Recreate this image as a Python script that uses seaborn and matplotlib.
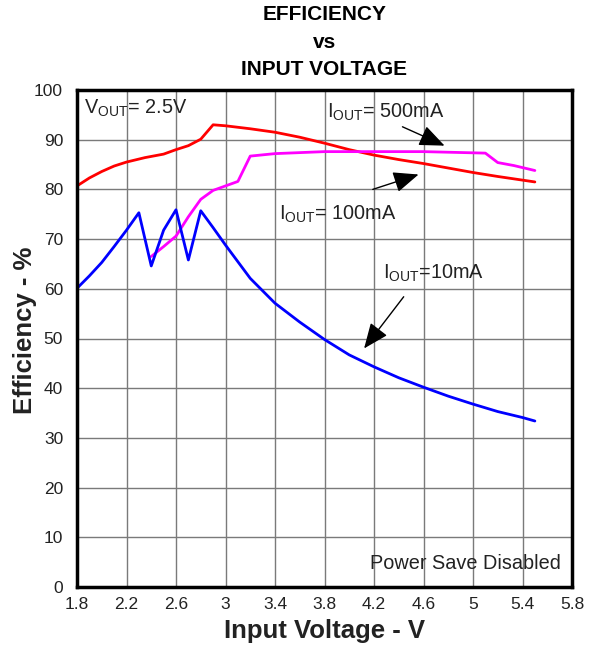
import numpy as np
import pandas as pd
import matplotlib
matplotlib.use("Agg")
import matplotlib.pyplot as plt
import seaborn as sns

# ================================================================================
# Data
# ================================================================================
v_500ma = [1.8, 1.9, 2.0, 2.1, 2.2, 2.35, 2.5, 2.6, 2.7, 2.8, 2.9, 3.0, 3.2, 3.4,
           3.6, 3.8, 4.0, 4.2, 4.4, 4.6, 4.8, 5.0, 5.2, 5.5]
eff_500ma = [80.7, 82.3, 83.6, 84.7, 85.5, 86.4, 87.1, 88.0, 88.8, 90.1, 93.0, 92.8,
             92.2, 91.5, 90.5, 89.3, 88.0, 86.9, 86.0, 85.2, 84.3, 83.4, 82.6, 81.5]

v_100ma = [2.4, 2.5, 2.6, 2.7, 2.8, 2.9, 3.1, 3.2, 3.4, 3.6, 3.8, 4.0, 4.6, 5.1,
           5.2, 5.33, 5.5]
eff_100ma = [66.5, 68.5, 70.6, 74.5, 78.0, 79.8, 81.6, 86.7, 87.2, 87.4, 87.6, 87.6,
             87.6, 87.3, 85.4, 84.8, 83.8]

v_10ma = [1.8, 1.9, 2.0, 2.1, 2.2, 2.3, 2.4, 2.5, 2.6, 2.7, 2.8, 2.9, 3.0, 3.2,
          3.4, 3.6, 3.8, 4.0, 4.2, 4.4, 4.6, 4.8, 5.0, 5.2, 5.4, 5.5]
eff_10ma = [60.1, 62.6, 65.3, 68.5, 71.8, 75.3, 64.6, 71.8, 75.9, 65.8, 75.7, 72.3,
            68.8, 62.1, 57.1, 53.3, 49.8, 46.7, 44.3, 42.1, 40.2, 38.4, 36.8, 35.3,
            34.1, 33.4]

series_names  = ["500mA", "100mA", "10mA"]
series_colors = ["#ff0000", "#ff00ff", "#0000ff"]

x_ticks = [1.8, 2.2, 2.6, 3.0, 3.4, 3.8, 4.2, 4.6, 5.0, 5.4, 5.8]
x_tick_labels = ["1.8", "2.2", "2.6", "3", "3.4", "3.8", "4.2", "4.6", "5", "5.4", "5.8"]
y_ticks = list(range(0, 101, 10))

df = pd.concat([
    pd.DataFrame({"V": v_500ma, "Eff": eff_500ma, "Iout": "500mA"}),
    pd.DataFrame({"V": v_100ma, "Eff": eff_100ma, "Iout": "100mA"}),
    pd.DataFrame({"V": v_10ma,  "Eff": eff_10ma,  "Iout": "10mA"}),
], ignore_index=True)

# ================================================================================
# Styling
# ================================================================================
sns.set_style("white")
plt.rcParams["font.family"] = ["Liberation Sans", "DejaVu Sans"]
plt.rcParams["mathtext.fontset"] = "custom"
plt.rcParams["mathtext.rm"] = "Liberation Sans"

TEXT_COLOR = "#222222"
NOTE_STYLE = {"fontsize": 14.3, "color": TEXT_COLOR, "va": "center"}
ARROW = {"arrowstyle": "-|>,head_length=0.6,head_width=0.25", "color": "black", "lw": 1.0,
         "mutation_scale": 26, "shrinkA": 0, "shrinkB": 0}

# ================================================================================
# Plotting
# ================================================================================
fig = plt.figure(figsize=(5.95, 6.46), dpi=100)
ax = fig.add_axes([77 / 595, 1 - 587 / 646, (572 - 77) / 595, (587 - 90) / 646])

sns.lineplot(data=df, x="V", y="Eff", hue="Iout", hue_order=series_names,
             palette=series_colors, sort=False, estimator=None, linewidth=2.0,
             legend=False, ax=ax, zorder=3)

ax.set_xlim(1.8, 5.8)
ax.set_ylim(0, 100)
ax.set_xticks(x_ticks)
ax.set_xticklabels(x_tick_labels)
ax.set_yticks(y_ticks)
ax.tick_params(axis="both", length=0, labelsize=12.5, labelcolor=TEXT_COLOR)
ax.tick_params(axis="x", pad=7)
ax.tick_params(axis="y", pad=10)
ax.grid(True, color="#7a7a7a", linewidth=1.0)
for s in ax.spines.values():
    s.set_linewidth(2.5)
    s.set_color("black")
    s.set_zorder(5)

ax.set_xlabel("Input Voltage - V", fontsize=18.5, fontweight="bold", color=TEXT_COLOR, va="center")
ax.set_ylabel("Efficiency - %", fontsize=18.5, fontweight="bold", color=TEXT_COLOR, va="center")
ax.xaxis.set_label_coords((324.5 - 77) / 495, (587 - 631) / 497)
ax.yaxis.set_label_coords((25 - 77) / 495, (587 - 330) / 497)

fig.text(324.5 / 595, 1 - 42 / 646, "EFFICIENCY\nvs\nINPUT VOLTAGE", ha="center", va="center",
         fontsize=15, fontweight="bold", color="black", linespacing=1.55)

# Annotations
ax.text(1.857, 96.4, r"$\mathregular{V_{OUT}}$= 2.5V", **NOTE_STYLE)
ax.text(3.82, 95.6, r"$\mathregular{I_{OUT}}$= 500mA", **NOTE_STYLE)
ax.text(3.43, 75.0, r"$\mathregular{I_{OUT}}$= 100mA", **NOTE_STYLE)
ax.text(4.27, 63.2, r"$\mathregular{I_{OUT}}$=10mA", **NOTE_STYLE)
ax.text(5.71, 4.8, "Power Save Disabled", ha="right", **NOTE_STYLE)

ax.annotate("", xy=(4.77, 88.8), xytext=(4.43, 92.6), arrowprops=ARROW, zorder=4)
ax.annotate("", xy=(4.56, 83.0), xytext=(4.19, 80.0), arrowprops=ARROW, zorder=4)
ax.annotate("", xy=(4.12, 48.0), xytext=(4.44, 58.4), arrowprops=ARROW, zorder=4)

fig.savefig("out.png", dpi=100, facecolor="white")
